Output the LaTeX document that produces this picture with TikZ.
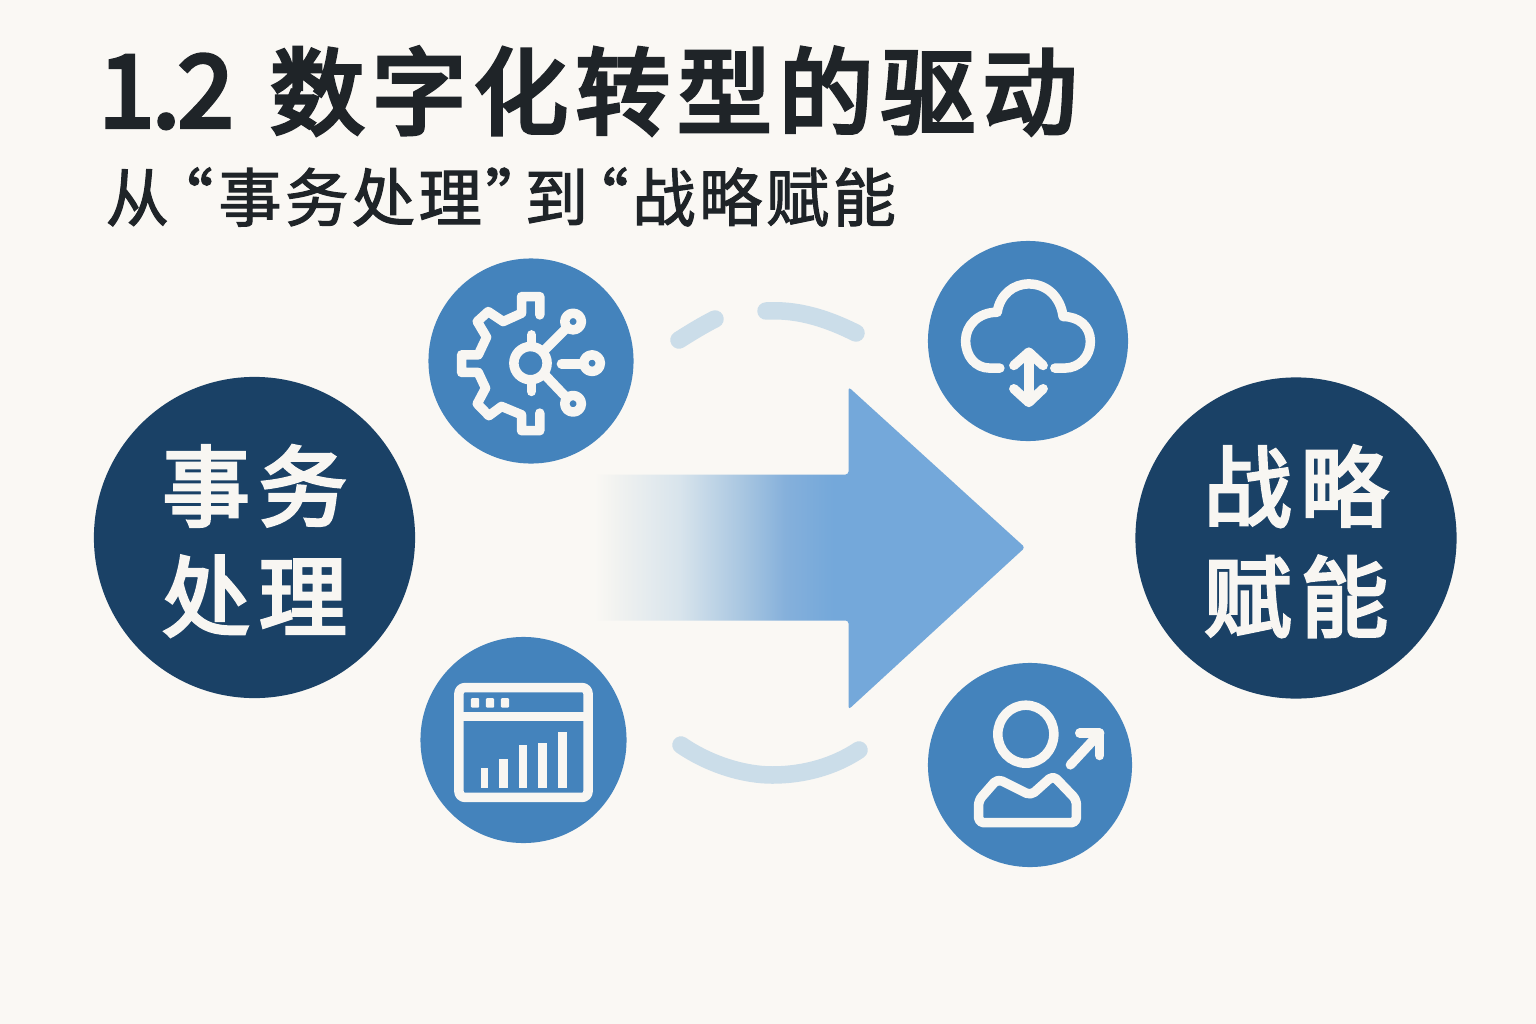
\documentclass[tikz,border=0pt]{standalone}
\usepackage{fontspec}
\setmainfont{Noto Sans CJK SC}
\newfontfamily\subfont[FakeBold=1.8,LetterSpace=5.5]{Noto Sans CJK SC}
\newfontfamily\titlefont[FakeBold=4.4]{Noto Sans CJK SC}
\newfontfamily\hubfont[FakeBold=3.6,LetterSpace=10]{Noto Sans CJK SC}
\newcommand{\hubdrop}{\rule{0pt}{.92em}}
\definecolor{paper}{HTML}{FAF8F4}
\definecolor{inkdark}{HTML}{1F2428}
\definecolor{navy}{HTML}{1A4166}
\definecolor{midblue}{HTML}{4483BC}
\definecolor{arrowblue}{HTML}{74A8DA}
\definecolor{fadeA}{HTML}{F1F2F0}
\definecolor{fadeB}{HTML}{D8E4EC}
\definecolor{fadeC}{HTML}{A5C4E0}
\definecolor{fadeD}{HTML}{85B0DB}
\definecolor{paleblue}{HTML}{CBDDE9}
\definecolor{iconwhite}{HTML}{F8F6F2}
\pgfdeclarehorizontalshading{arrowfade}{100bp}{color(0bp)=(paper); color(25.5bp)=(paper); color(28bp)=(fadeA); color(35.3bp)=(fadeB); color(43bp)=(fadeC); color(47.5bp)=(fadeD); color(53bp)=(arrowblue); color(100bp)=(arrowblue)}
\tikzset{
  hubnode/.style={circle,fill=navy,text=iconwhite,minimum size=3.21cm,inner sep=0pt,align=center,
    font=\hubfont\fontsize{25}{31.3}\selectfont},
  iconnode/.style={circle,fill=midblue,inner sep=0pt},
  iconline/.style={draw=iconwhite,line width=0.095cm,line cap=round,line join=round},
  iconfill/.style={fill=iconwhite},
  zoomed/.style={x=0.003333cm,y=-0.003333cm},
  fadeline/.style={draw=paleblue,line width=0.175cm,line cap=round}
}
\begin{document}
\begin{tikzpicture}[x=0.01cm,y=-0.01cm]
  \fill[paper] (0,0) rectangle (1536,1024);
  \useasboundingbox (0,0) rectangle (1536,1024);
  \draw
    (98,91) node[anchor=west,inner sep=0pt,text=inkdark,font=\titlefont\fontsize{28.4}{30}\selectfont] (title){{\addfontfeature{LetterSpace=-2}1.2}\hspace{0.37em}{\fontsize{26.8}{30}\selectfont\addfontfeature{LetterSpace=8}数字化转型的驱动}}
    (105,197) node[anchor=west,inner sep=0pt,text=inkdark,font=\subfont\fontsize{18}{20}\selectfont] (subtitle){从\hspace{-.3em}“\hspace{.08em}事务处理”\hspace{-.38em}到\hspace{-.36em}“\hspace{.06em}战略赋能}
    (254.5,537.5) node[hubnode] (txn){\hubdrop 事务\\处理}
    (1296,538) node[hubnode] (strat){\hubdrop 战略\\赋能}
    (531,361) node[iconnode,minimum size=2.05cm] (gear){}
    (1028,341) node[iconnode,minimum size=2.00cm] (cloud){}
    (523.5,740) node[iconnode,minimum size=2.06cm] (window){}
    (1030,765) node[iconnode,minimum size=2.04cm] (person){};
  \shade[shading=arrowfade,rounded corners=0.03cm]
    (590,474.5) -- (848.5,474.5) -- (848.5,387) -- (1025,547.5) -- (848.5,709.5) -- (848.5,620.5) -- (590,620.5) -- cycle;
  \begin{scope}[fadeline]
    \draw (679,340) .. controls (690,333) and (703,325) .. (715,319);
    \draw (766,311) .. controls (800,309) and (830,320) .. (856,333);
    \draw (681,745) .. controls (710,765) and (745,775) .. (772,775) .. controls (805,775) and (835,766) .. (859,750);
  \end{scope}
  \begin{scope}[shift={(420,250)},zoomed]
    \draw[iconline] (360,195) -- (360,140) -- (305,140) -- (305,190) -- (250,215) -- (205,185) -- (172,215) -- (200,262) -- (175,315) -- (125,315) -- (125,368) -- (175,368) -- (197,415) -- (172,462) -- (207,498) -- (245,470) -- (305,495) -- (305,543) -- (360,543) -- (360,490);
    \draw[iconline] (332,340) circle [radius=0.166cm];
    \draw[iconline] (335,255) -- (335,290);
    \draw[iconline] (335,390) -- (335,425);
    \draw[iconline] (375,300) -- (437,238);
    \draw[iconline] (460,215) circle [radius=0.083cm];
    \draw[iconline] (425,342) -- (490,342);
    \draw[iconline] (517,340) circle [radius=0.083cm];
    \draw[iconline] (375,375) -- (437,440);
    \draw[iconline] (460,462) circle [radius=0.083cm];
  \end{scope}
  \begin{scope}[shift={(920,235)},zoomed]
    \draw[iconline] (240,400) -- (210,400) .. controls (165,400) and (137,362) .. (137,318) .. controls (137,272) and (175,232) .. (232,232) .. controls (240,180) and (280,147) .. (327,147) .. controls (380,147) and (422,185) .. (430,245) .. controls (478,245) and (512,275) .. (512,320) .. controls (512,365) and (478,400) .. (435,400) -- (405,400);
    \draw[iconline] (327,355) -- (327,500);
    \draw[iconline] (282,392) -- (327,352) -- (370,392);
    \draw[iconline] (282,462) -- (327,503) -- (370,462);
  \end{scope}
  \begin{scope}[shift={(415,630)},zoomed]
    \draw[iconline,rounded corners=0.06cm] (132,173) rectangle (520,503);
    \draw[iconline] (132,260) -- (520,260);
    \foreach \px in {168,213,258}
      \fill[iconfill,rounded corners=0.01cm] (\px,205) rectangle ++(25,28);
    \fill[iconfill] (197,415) rectangle (220,475);
    \fill[iconfill] (251,388) rectangle (279,474);
    \fill[iconfill] (313,345) rectangle (337,474);
    \fill[iconfill] (371,341) rectangle (398,474);
    \fill[iconfill] (431,305) rectangle (456,475);
  \end{scope}
  \begin{scope}[shift={(920,655)},zoomed]
    \draw[iconline] (318,238) ellipse [x radius=0.28cm,y radius=0.29cm];
    \draw[iconline,rounded corners=0.05cm] (176,504) -- (176,437) -- (233,372) -- (333,422) -- (400,362) -- (470,435) -- (470,504) -- cycle;
    \draw[iconline] (452,330) -- (540,235);
    \draw[iconline] (480,235) -- (540,235) -- (540,302);
  \end{scope}
\end{tikzpicture}
\end{document}
